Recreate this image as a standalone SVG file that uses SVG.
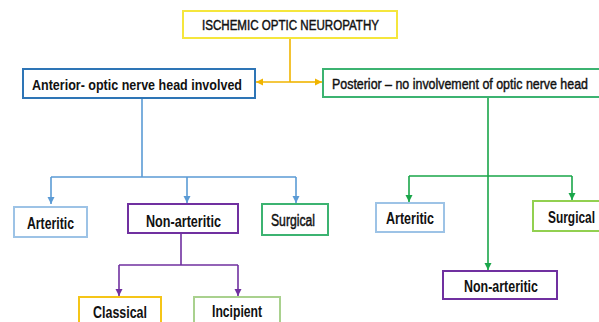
<svg xmlns="http://www.w3.org/2000/svg" width="599" height="322" viewBox="0 0 599 322">
<defs>
<style>
text{font-family:"Liberation Sans",Arial,sans-serif;fill:#111;text-anchor:middle}
.b{font-weight:bold}
.m{stroke:#111;stroke-width:0.45}
.box{fill:#fff;stroke-width:2}
.ln{fill:none;stroke-width:1.6}
</style>
<marker id="ay" markerUnits="userSpaceOnUse" markerWidth="8" markerHeight="8" refX="7" refY="4" orient="auto"><path d="M0,0.5 L7,4 L0,7.5 Z" fill="#f0b400"/></marker>
<marker id="abl" markerUnits="userSpaceOnUse" markerWidth="8" markerHeight="8" refX="7" refY="4" orient="auto"><path d="M0,0.5 L7,4 L0,7.5 Z" fill="#5b9bd5"/></marker>
<marker id="ap" markerUnits="userSpaceOnUse" markerWidth="8" markerHeight="8" refX="7" refY="4" orient="auto"><path d="M0,0.5 L7,4 L0,7.5 Z" fill="#7030a0"/></marker>
<marker id="ag" markerUnits="userSpaceOnUse" markerWidth="8" markerHeight="8" refX="7" refY="4" orient="auto"><path d="M0,0.5 L7,4 L0,7.5 Z" fill="#1aa64a"/></marker>
</defs>
<rect width="599" height="322" fill="#fff"/>
<g id="connectors">
<path class="ln" d="M290,38 V82" stroke="#f0b400"/>
<path class="ln" d="M290,82 H256" stroke="#f0b400" marker-end="url(#ay)"/>
<path class="ln" d="M290,82 H322" stroke="#f0b400" marker-end="url(#ay)"/>
<path class="ln" d="M142,98 V177 M51,177 H296" stroke="#5b9bd5"/>
<path class="ln" d="M51,177 V204" stroke="#5b9bd5" marker-end="url(#abl)"/>
<path class="ln" d="M187,177 V203" stroke="#5b9bd5" marker-end="url(#abl)"/>
<path class="ln" d="M296,177 V203" stroke="#5b9bd5" marker-end="url(#abl)"/>
<path class="ln" d="M181,233 V265 M119,265 H238" stroke="#7030a0"/>
<path class="ln" d="M119,265 V296" stroke="#7030a0" marker-end="url(#ap)"/>
<path class="ln" d="M238,265 V296" stroke="#7030a0" marker-end="url(#ap)"/>
<path class="ln" d="M488,97 V176 M409,176 H572" stroke="#1aa64a"/>
<path class="ln" d="M409,176 V202" stroke="#1aa64a" marker-end="url(#ag)"/>
<path class="ln" d="M572,176 V200" stroke="#1aa64a" marker-end="url(#ag)"/>
<path class="ln" d="M488,176 V270" stroke="#1aa64a" marker-end="url(#ag)"/>
</g>
<g id="title"><rect class="box" x="183" y="11" width="214" height="27" stroke="#f5e63c"/><text class="m" x="290.5" y="30" font-size="14" textLength="177" lengthAdjust="spacingAndGlyphs">ISCHEMIC OPTIC NEUROPATHY</text></g>
<g id="anterior"><rect class="box" x="23" y="69" width="232" height="29" stroke="#2e75b6"/><text class="b" x="137" y="89.5" font-size="15.5" textLength="210" lengthAdjust="spacingAndGlyphs">Anterior- optic nerve head involved</text></g>
<g id="posterior"><rect class="box" x="323" y="69" width="277" height="28" stroke="#3cb371"/><text class="m" x="460" y="89" font-size="15.5" textLength="256" lengthAdjust="spacingAndGlyphs">Posterior – no involvement of optic nerve head</text></g>
<g id="a-arteritic"><rect class="box" x="14" y="207" width="73" height="30" stroke="#9dc3e6"/><text class="b" x="50.5" y="228.5" font-size="16.5" textLength="47" lengthAdjust="spacingAndGlyphs">Arteritic</text></g>
<g id="a-nonarteritic"><rect class="box" x="128" y="204" width="110" height="29" stroke="#7030a0"/><text class="b" x="183.5" y="226.5" font-size="16.5" textLength="75" lengthAdjust="spacingAndGlyphs">Non-arteritic</text></g>
<g id="a-surgical"><rect class="box" x="262" y="204" width="66" height="31" stroke="#3cb371"/><text class="m" x="293" y="226" font-size="16" textLength="44" lengthAdjust="spacingAndGlyphs">Surgical</text></g>
<g id="classical"><rect class="box" x="79" y="297" width="82" height="30" stroke="#f5c518"/><text class="b" x="120" y="318" font-size="16.5" textLength="54" lengthAdjust="spacingAndGlyphs">Classical</text></g>
<g id="incipient"><rect class="box" x="194" y="297" width="86" height="30" stroke="#a9d18e"/><text class="b" x="237" y="317" font-size="16.5" textLength="50" lengthAdjust="spacingAndGlyphs">Incipient</text></g>
<g id="p-arteritic"><rect class="box" x="376" y="203" width="68" height="29" stroke="#9dc3e6"/><text class="b" x="410" y="224" font-size="16.5" textLength="48" lengthAdjust="spacingAndGlyphs">Arteritic</text></g>
<g id="p-surgical"><rect class="box" x="533" y="201" width="67" height="30" stroke="#92d050"/><text class="b" x="571.5" y="222.5" font-size="16.5" textLength="47" lengthAdjust="spacingAndGlyphs">Surgical</text></g>
<g id="p-nonarteritic"><rect class="box" x="443" y="271" width="114" height="28" stroke="#7030a0"/><text class="b" x="501" y="291.5" font-size="16.5" textLength="74" lengthAdjust="spacingAndGlyphs">Non-arteritic</text></g>
</svg>
